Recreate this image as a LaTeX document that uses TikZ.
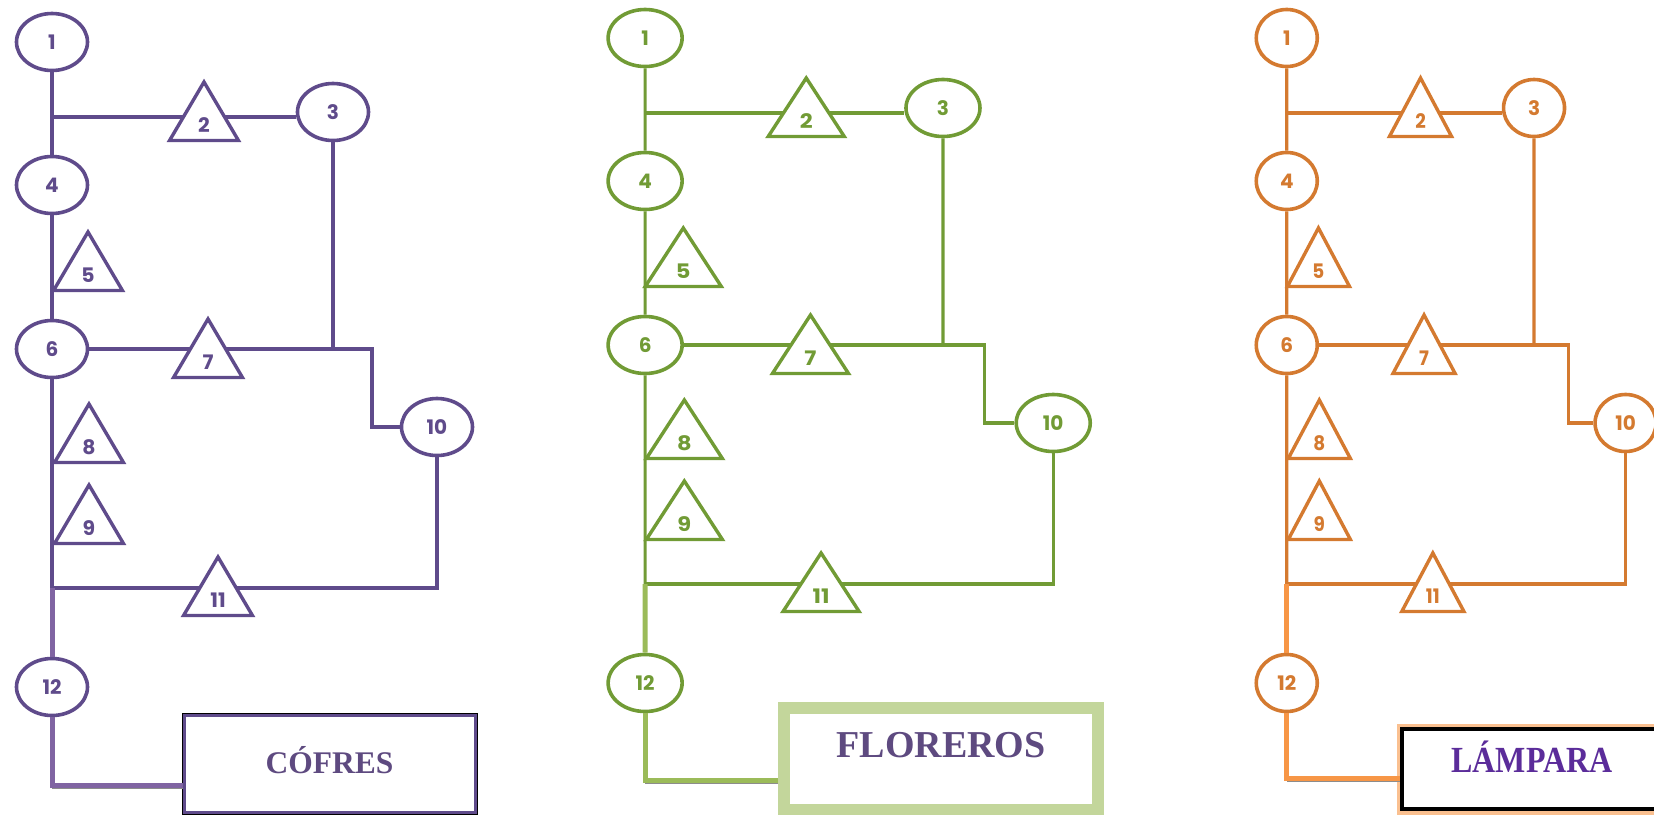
\documentclass[tikz,border=0pt]{standalone}
\usepackage{fontspec}
\usepackage{tikz}
\usetikzlibrary{shapes.geometric}
\usepackage{xcolor}
\usepackage{graphicx}

\setmainfont{Liberation Serif}
\newfontfamily\numfont{Poppins}

\definecolor{morado}{HTML}{5F4B8B}
\definecolor{moradoclaro}{HTML}{8064A2}
\definecolor{verde}{HTML}{719B35}
\definecolor{verdeclaro}{HTML}{9BBB59}
\definecolor{verdemarco}{HTML}{C3D69B}
\definecolor{naranja}{HTML}{D47A30}
\definecolor{naranjaclaro}{HTML}{F79646}
\definecolor{naranjamarco}{HTML}{FAC090}
\definecolor{letra}{HTML}{5E4A80}
\definecolor{letravioleta}{HTML}{5B2C9A}

\begin{document}
\begin{tikzpicture}[
    x=1pt, y=-1pt,
    oper/.style={draw, ellipse, line width=3.6pt, fill=white, minimum height=57pt, inner sep=0pt,
      font=\numfont\bfseries\fontsize{20}{20}\selectfont},
    alm/.style={draw, regular polygon, regular polygon sides=3, minimum size=78pt, inner sep=0pt,
      line width=3.4pt, fill=white, text height=22pt, text depth=0pt,
      font=\numfont\bfseries\fontsize{20}{20}\selectfont},
    linea/.style={line width=3.2pt},
    tramo/.style={line width=5pt},
    salida/.style={line width=5pt, preaction={draw=black!45, transform canvas={yshift=-3.5pt}}},
    caja/.style={rectangle, fill=white, inner sep=0pt, font=\bfseries\fontsize{31.5}{32}\selectfont}
  ]
  \useasboundingbox (0,0) rectangle (1654,814);

  % Cofres
  \begin{scope}[color=morado, oper/.append style={minimum width=71pt}, alm/.append style={xscale=1.02}]
    \node[oper] (P1) at (52,42) {1};
    \node[oper] (P3) at (333,112) {3};
    \node[oper] (P4) at (52,185) {4};
    \node[oper] (P6) at (52,349) {6};
    \node[oper] (P10) at (437,427) {10};
    \node[oper] (P12) at (52,687) {12};
    \coordinate (P2a) at (52,117);
    \coordinate (P7a) at (372,349);
    \coordinate (P11a) at (52,588);

    \draw[linea] (P1) -- (P4) (P4) -- (P6) (P6) -- (P11a);
    \draw[linea] (P2a) -- (P2a -| P3.west);
    \draw[linea] (P3) -- (P3 |- P7a);
    \draw[linea] (P6) -- (P7a) |- (P10);
    \draw[linea] (P10) |- (P11a);
    \draw[tramo, moradoclaro] (P11a) -- (P12);

    \node[alm] (P2) at (204,121) {2};
    \node[alm] (P5) at (88,271) {5};
    \node[alm] (P7) at (208,358) {7};
    \node[alm] (P8) at (89,443) {8};
    \node[alm] (P9) at (89,524) {9};
    \node[alm] (P11) at (218,596) {11};
  \end{scope}

  % Floreros
  \begin{scope}[xshift=590pt, xscale=1.06, yshift=4pt, color=verde,
      oper/.append style={minimum width=74pt}, alm/.append style={xscale=1.126}]
    \node[oper] (G1) at (52,42) {1};
    \node[oper] (G3) at (333,112) {3};
    \node[oper] (G4) at (52,185) {4};
    \node[oper] (G6) at (52,349) {6};
    \node[oper] (G10) at (437,427) {10};
    \node[oper] (G12) at (52,687) {12};
    \coordinate (G2a) at (52,117);
    \coordinate (G7a) at (372,349);
    \coordinate (G11a) at (52,588);

    \draw[linea] (G1) -- (G4) (G4) -- (G6) (G6) -- (G11a);
    \draw[linea] (G2a) -- (G2a -| G3.west);
    \draw[linea] (G3) -- (G3 |- G7a);
    \draw[linea] (G6) -- (G7a) |- (G10);
    \draw[linea] (G10) |- (G11a);
    \draw[tramo, verdeclaro] (G11a) -- (G12);

    \node[alm] (G2) at (204,121) {2};
    \node[alm] (G5) at (88,271) {5};
    \node[alm] (G7) at (208,358) {7};
    \node[alm] (G8) at (89,443) {8};
    \node[alm] (G9) at (89,524) {9};
    \node[alm] (G11) at (218,596) {11};
  \end{scope}

  % Lampara
  \begin{scope}[xshift=1241pt, xscale=0.88, yshift=4pt, color=naranja,
      oper/.append style={minimum width=61pt}, alm/.append style={xscale=0.92}]
    \node[oper] (O1) at (52,42) {1};
    \node[oper] (O3) at (333,112) {3};
    \node[oper] (O4) at (52,185) {4};
    \node[oper] (O6) at (52,349) {6};
    \node[oper] (O10) at (437,427) {10};
    \node[oper] (O12) at (52,687) {12};
    \coordinate (O2a) at (52,117);
    \coordinate (O7a) at (372,349);
    \coordinate (O11a) at (52,588);

    \draw[linea] (O1) -- (O4) (O4) -- (O6) (O6) -- (O11a);
    \draw[linea] (O2a) -- (O2a -| O3.west);
    \draw[linea] (O3) -- (O3 |- O7a);
    \draw[linea] (O6) -- (O7a) |- (O10);
    \draw[linea] (O10) |- (O11a);
    \draw[tramo, naranjaclaro] (O11a) -- (O12);

    \node[alm] (O2) at (204,121) {2};
    \node[alm] (O5) at (88,271) {5};
    \node[alm] (O7) at (208,358) {7};
    \node[alm] (O8) at (89,443) {8};
    \node[alm] (O9) at (89,524) {9};
    \node[alm] (O11) at (218,596) {11};
  \end{scope}

  % Product boxes
  \node[caja, draw=morado, line width=3pt, preaction={draw=black, line width=5pt},
    minimum width=291pt, minimum height=97pt, text=letra, text height=21pt, text depth=2pt]
    (Pbox) at (329.5,763.5) {CÓFRES};
  \node[caja, draw=verdemarco, line width=12pt, minimum width=314pt, minimum height=102pt,
    text=letra, font=\bfseries\fontsize{38}{38}\selectfont, text height=25pt, text depth=28pt]
    (Gbox) at (941,759) {FLOREROS};
  \node[caja, draw=black, line width=3.5pt, preaction={draw=naranjamarco, line width=11pt},
    minimum width=260pt, minimum height=80pt, text=letravioleta,
    font=\bfseries\fontsize{32}{32}\selectfont, text height=24pt, text depth=17pt]
    (Obox) at (1532,769) {\scalebox{1}[1.15]{LÁMPARA}};

  \draw[salida, moradoclaro] (P12) |- ([yshift=-21.5pt]Pbox.west);
  \draw[salida, verdeclaro] (G12) |- ([yshift=-21pt]Gbox.west);
  \draw[salida, naranjaclaro] (O12) |- ([yshift=-9pt]Obox.west);
\end{tikzpicture}
\end{document}
